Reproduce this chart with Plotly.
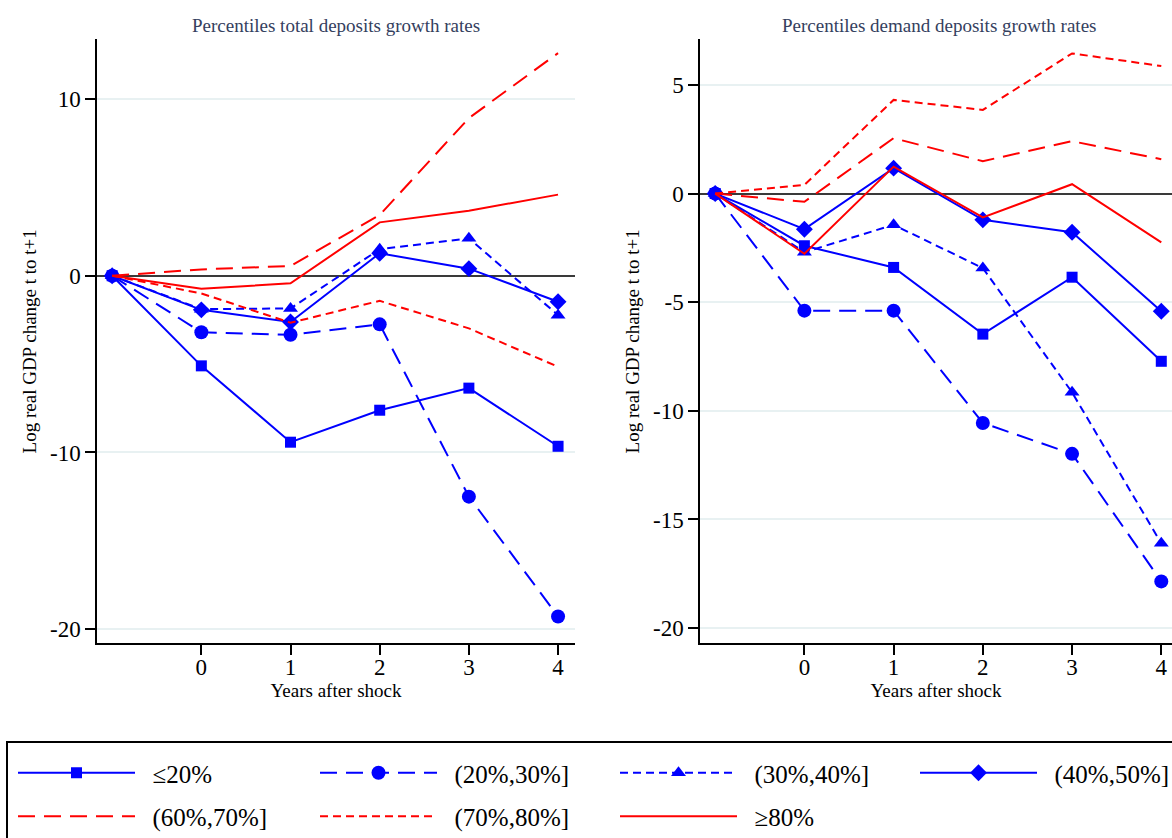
import plotly.graph_objects as go

years = [-1, 0, 1, 2, 3, 4]
tick_years = [0, 1, 2, 3, 4]

series_names = ["≤20%", "(20%,30%]", "(30%,40%]", "(40%,50%]", "(60%,70%]", "(70%,80%]", "≥80%"]

# Total deposits growth rates (left panel)
total_le20 = [0, -5.1, -9.42, -7.61, -6.36, -9.65]
total_20_30 = [0, -3.2, -3.34, -2.75, -12.5, -19.28]
total_30_40 = [0, -1.89, -1.85, 1.5, 2.12, -2.23]
total_40_50 = [0, -1.93, -2.62, 1.27, 0.4, -1.47]
total_60_70 = [0, 0.36, 0.55, 3.44, 8.92, 12.6]
total_70_80 = [0, -1.0, -2.66, -1.42, -2.98, -5.15]
total_ge80 = [0, -0.74, -0.43, 3.02, 3.68, 4.59]

# Demand deposits growth rates (right panel)
demand_le20 = [0, -2.4, -3.4, -6.47, -3.85, -7.72]
demand_20_30 = [0, -5.39, -5.39, -10.56, -11.98, -17.85]
demand_30_40 = [0, -2.7, -1.44, -3.43, -9.15, -16.1]
demand_40_50 = [0, -1.64, 1.17, -1.21, -1.78, -5.42]
demand_60_70 = [0, -0.38, 2.55, 1.49, 2.41, 1.58]
demand_70_80 = [0, 0.4, 4.31, 3.85, 6.45, 5.87]
demand_ge80 = [0, -2.77, 1.24, -1.1, 0.43, -2.25]

left_ticks = [10, 0, -10, -20]
left_ticktext = ["10", "0", "-10", "-20"]
right_ticks = [5, 0, -5, -10, -15, -20]
right_ticktext = ["5", "0", "-5", "-10", "-15", "-20"]

BLUE = "#0000ff"
RED = "#ff0000"
LONG = "17px,9px"
SHORT = "8px,5px"

styles = [
    dict(color=BLUE, dash="solid", symbol="square", size=11),
    dict(color=BLUE, dash=LONG, symbol="circle", size=14),
    dict(color=BLUE, dash=SHORT, symbol="triangle-up", size=13),
    dict(color=BLUE, dash="solid", symbol="diamond", size=13),
    dict(color=RED, dash=LONG, symbol=None, size=0),
    dict(color=RED, dash=SHORT, symbol=None, size=0),
    dict(color=RED, dash="solid", symbol=None, size=0),
]
# legend column of each series (two rows, four columns)
legend_slot = ["legend", "legend2", "legend3", "legend4", "legend", "legend2", "legend3"]

left_data = [total_le20, total_20_30, total_30_40, total_40_50, total_60_70, total_70_80, total_ge80]
right_data = [demand_le20, demand_20_30, demand_30_40, demand_40_50, demand_60_70, demand_70_80, demand_ge80]

W, H = 1172, 838
NB = "\u00a0\u00a0"
fig = go.Figure()

for panel, (data, xa, ya) in enumerate([(left_data, "x", "y"), (right_data, "x2", "y2")]):
    for i, (name, vals, st) in enumerate(zip(series_names, data, styles)):
        has_marker = st["symbol"] is not None
        fig.add_trace(go.Scatter(
            x=years, y=vals, name=NB + name, xaxis=xa, yaxis=ya,
            mode="lines+markers" if has_marker else "lines",
            line=dict(color=st["color"], width=2, dash=st["dash"]),
            marker=dict(symbol=st["symbol"] or "circle", size=st["size"], color=st["color"],
                        line=dict(width=0)),
            showlegend=(panel == 0),
            legend=legend_slot[i],
            legendgroup=name,
        ))

FONT = "Liberation Serif, Times New Roman, serif"

def xaxis_cfg(domain, rng):
    return dict(domain=domain, range=rng, tickvals=tick_years, ticks="outside", ticklen=10,
                tickwidth=1.5, tickcolor="black", showline=True, linecolor="black", linewidth=1.5,
                showgrid=False, zeroline=False, automargin=False, ticklabelstandoff=-8,
                tickfont=dict(family=FONT, size=23, color="black"),
                title=dict(text="Years after shock", font=dict(family=FONT, size=19, color="black"), standoff=4))

def yaxis_cfg(domain, rng, ticks, ticktext, anchor):
    return dict(domain=domain, range=rng, tickvals=ticks, ticktext=ticktext, ticks="outside", ticklen=10,
                tickwidth=1.5, tickcolor="black", showline=True, linecolor="black", linewidth=1.5,
                showgrid=True, gridcolor="#e8f1f2", gridwidth=2,
                zeroline=True, zerolinecolor="#3a3a3a", zerolinewidth=2,
                anchor=anchor, automargin=False,
                tickfont=dict(family=FONT, size=23, color="black"),
                title=dict(text="Log real GDP change t to t+1", font=dict(family=FONT, size=19, color="black"), standoff=8))

def legend_cfg(x_px):
    return dict(orientation="v", x=(x_px - 5) / W, y=1 - 750 / H, xanchor="left", yanchor="top",
                itemwidth=117, tracegroupgap=8,
                font=dict(family=FONT, size=25, color="black"),
                bgcolor="rgba(0,0,0,0)", borderwidth=0)

y_dom = [1 - 643.3 / H, 1 - 39.3 / H]
fig.update_layout(
    width=W, height=H,
    margin=dict(l=0, r=0, t=0, b=0, autoexpand=False),
    paper_bgcolor="white", plot_bgcolor="white",
    xaxis=xaxis_cfg([97 / W, 575 / W], [-1.17, 4.19]),
    yaxis=yaxis_cfg(y_dom, [-20.8, 13.38], left_ticks, left_ticktext, "x"),
    xaxis2=dict(xaxis_cfg([700 / W, 1.0], [-1.17, 4.12]), anchor="y2"),
    yaxis2=yaxis_cfg(y_dom, [-20.7, 7.1], right_ticks, right_ticktext, "x2"),
    showlegend=True,
    legend=legend_cfg(18),
    legend2=legend_cfg(320),
    legend3=legend_cfg(620),
    legend4=legend_cfg(920),
    shapes=[dict(type="rect", xref="paper", yref="paper", x0=7 / W, x1=1.05, y0=-0.1,
                 y1=1 - 742 / H, line=dict(color="black", width=2), fillcolor="rgba(0,0,0,0)")],
    annotations=[
        dict(text="Percentiles total deposits growth rates", xref="paper", yref="paper",
             x=336 / W, y=1 - 26 / H, showarrow=False, xanchor="center", yanchor="middle",
             font=dict(family=FONT, size=19, color="#34405e")),
        dict(text="Percentiles demand deposits growth rates", xref="paper", yref="paper",
             x=939 / W, y=1 - 26 / H, showarrow=False, xanchor="center", yanchor="middle",
             font=dict(family=FONT, size=19, color="#34405e")),
    ],
)

fig.write_html("out.html")
